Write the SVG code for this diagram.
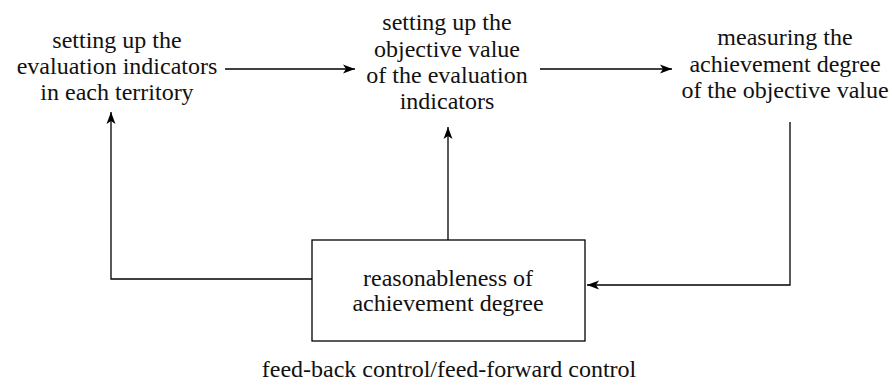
<svg xmlns="http://www.w3.org/2000/svg" width="892" height="386" viewBox="0 0 892 386">
<defs>
<marker id="ah" viewBox="0 0 12 10" refX="12" refY="5" markerWidth="12" markerHeight="10" markerUnits="userSpaceOnUse" orient="auto">
<path d="M0,0.5 L12,5 L0,9.5 L3,5 z" fill="#000"/>
</marker>
<style>
.t{font-size:24px;fill:#111;text-anchor:middle}
.c{fill:none;stroke:#000;stroke-width:1.3}
</style>
</defs>
<rect width="892" height="386" fill="#fff"/>
<g class="t" font-family="Liberation Serif, Times New Roman, serif">
<g id="n1"><text x="117" y="48">setting up the</text><text x="117" y="74">evaluation indicators</text><text x="117" y="100">in each territory</text></g>
<g id="n2"><text x="447" y="30">setting up the</text><text x="447" y="57">objective value</text><text x="447" y="83">of the evaluation</text><text x="447" y="109">indicators</text></g>
<g id="n3"><text x="785" y="45">measuring the</text><text x="785" y="72">achievement degree</text><text x="785" y="98">of the objective value</text></g>
<g id="n4"><rect x="312" y="240" width="273" height="101" fill="#fff" stroke="#000" stroke-width="1.3"/><text x="448" y="286">reasonableness of</text><text x="448" y="311">achievement degree</text></g>
<g id="label"><text x="449" y="377">feed-back control/feed-forward control</text></g>
</g>
<g id="connectors">
<path class="c" d="M225,69 H355" marker-end="url(#ah)"/>
<path class="c" d="M540,69 H672" marker-end="url(#ah)"/>
<path class="c" d="M312,279 H111 V112" marker-end="url(#ah)"/>
<path class="c" d="M448,240 V127" marker-end="url(#ah)"/>
<path class="c" d="M790,122 V285 H587" marker-end="url(#ah)"/>
</g>
</svg>
